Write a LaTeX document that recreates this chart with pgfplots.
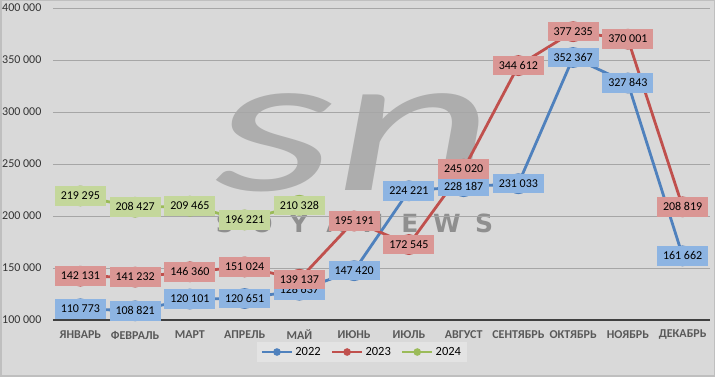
\documentclass[border=0pt]{standalone}
\usepackage{fontspec}
\setmainfont{Carlito}
\newfontfamily\wmfont{DejaVu Sans}
\usepackage{pgfplots}
\pgfplotsset{compat=1.18}
\definecolor{bg}{HTML}{D9D9D9}
\definecolor{frame}{HTML}{BFBFBF}
\definecolor{gridc}{HTML}{A6A6A6}
\definecolor{axisc}{HTML}{404040}
\definecolor{ticktext}{HTML}{333333}
\definecolor{xtext}{HTML}{595959}
\definecolor{cA}{HTML}{4F81BD}
\definecolor{cB}{HTML}{C0504D}
\definecolor{cC}{HTML}{9BBB59}
\definecolor{lA}{HTML}{8DB4E2}
\definecolor{lB}{HTML}{DA9694}
\definecolor{lC}{HTML}{C4D79B}
\definecolor{legbg}{HTML}{E3E3E3}
\definecolor{wm}{HTML}{ADADAD}
\definecolor{wmt}{HTML}{8F8F8F}
\begin{document}
\begin{tikzpicture}[x=1pt,y=1pt]
\fill[bg] (0,0) rectangle (715,377);
\draw[frame, line width=1.5pt] (0.75,0.75) rectangle (714.25,376.25);
% watermark
\node[anchor=base west, inner sep=0pt, xscale=1.55, font=\fontsize{200}{200}\selectfont\itshape, text=wm] at (214,186) {sn};
\foreach \l [count=\i from 0] in {S,O,Y,A,N,E,W,S}
  \node[font=\wmfont\fontsize{25}{25}\selectfont\bfseries, text=wmt, inner sep=0pt] at (225+37*\i,154) {\l};
\begin{axis}[
  at={(53pt,57pt)}, anchor=south west,
  width=657pt, height=312pt, scale only axis,
  xmin=-0.5, xmax=11.5, ymin=100000, ymax=400000,
  clip=false,
  axis line style={draw=none},
  tick style={draw=none},
  ymajorgrids, grid style={gridc, line width=0.9pt},
  ytick={100000,150000,200000,250000,300000,350000,400000},
  yticklabels={100 000,150 000,200 000,250 000,300 000,350 000,400 000},
  yticklabel style={font=\fontsize{12}{12}\selectfont, text=ticktext, anchor=west, inner sep=0pt, xshift=-51pt},
  xtick={0,...,11},
  xticklabels={ЯНВАРЬ,ФЕВРАЛЬ,МАРТ,АПРЕЛЬ,МАЙ,ИЮНЬ,ИЮЛЬ,АВГУСТ,СЕНТЯБРЬ,ОКТЯБРЬ,НОЯБРЬ,ДЕКАБРЬ},
  xticklabel style={font=\fontsize{12}{12}\selectfont\bfseries, text=xtext, anchor=center, inner sep=0pt, yshift=-15pt},
  legend columns=3,
  legend style={at={(0.470,-0.1026)}, anchor=center, fill=legbg, draw=none,
    font=\fontsize{12.5}{12.5}\selectfont, inner xsep=4pt, inner ysep=3pt,
    /tikz/every even column/.append style={column sep=8pt}},
  legend image code/.code={\draw[mark repeat=2,mark phase=2,#1,mark size=2.3pt] plot coordinates {(0pt,0pt) (15pt,0pt) (30pt,0pt)};},
  every axis plot/.append style={line width=2.8pt, mark=*, mark size=9pt},
  every node near coord/.append style={anchor=center, font=\fontsize{12}{12}\selectfont, text=black,
    inner xsep=6pt, inner ysep=5pt, text height=8.5pt, text depth=1pt},
]
\draw[axisc, line width=2.5pt] (axis cs:-0.5,100000) -- (axis cs:11.5,100000);
\addplot[cA, mark options={fill=cA}] coordinates {
(0,110773) (1,108821) (2,120101) (3,120651) (4,128637) (5,147420)
(6,224221) (7,228187) (8,231033) (9,352367) (10,327843) (11,161662)};
\addlegendentry{2022}
\addplot[cB, mark options={fill=cB}] coordinates {
(0,142131) (1,141232) (2,146360) (3,151024) (4,139137) (5,195191)
(6,172545) (7,245020) (8,344612) (9,377235) (10,370001) (11,208819)};
\addlegendentry{2023}
\addplot[cC, mark options={fill=cC}] coordinates {
(0,219295) (1,208427) (2,209465) (3,196221) (4,210328)};
\addlegendentry{2024}
% labels on top
\addplot[draw=none, mark=none, forget plot, point meta=explicit symbolic,
  nodes near coords, every node near coord/.append style={fill=lA}] coordinates {
(0,110773) [110 773] (1,108821) [108 821] (2,120101) [120 101] (3,120651) [120 651]
(4,128637) [128 637] (5,147420) [147 420] (6,224221) [224 221] (7,228187) [228 187]
(8,231033) [231 033] (9,352367) [352 367] (10,327843) [327 843] (11,161662) [161 662]};
\addplot[draw=none, mark=none, forget plot, point meta=explicit symbolic,
  nodes near coords, every node near coord/.append style={fill=lB}] coordinates {
(0,142131) [142 131] (1,141232) [141 232] (2,146360) [146 360] (3,151024) [151 024]
(4,139137) [139 137] (5,195191) [195 191] (6,172545) [172 545] (7,245020) [245 020]
(8,344612) [344 612] (9,377235) [377 235] (10,370001) [370 001] (11,208819) [208 819]};
\addplot[draw=none, mark=none, forget plot, point meta=explicit symbolic,
  nodes near coords, every node near coord/.append style={fill=lC}] coordinates {
(0,219295) [219 295] (1,208427) [208 427] (2,209465) [209 465] (3,196221) [196 221]
(4,210328) [210 328]};
\end{axis}
\pgfresetboundingbox
\useasboundingbox (0,0) rectangle (715,377);
\end{tikzpicture}
\end{document}
